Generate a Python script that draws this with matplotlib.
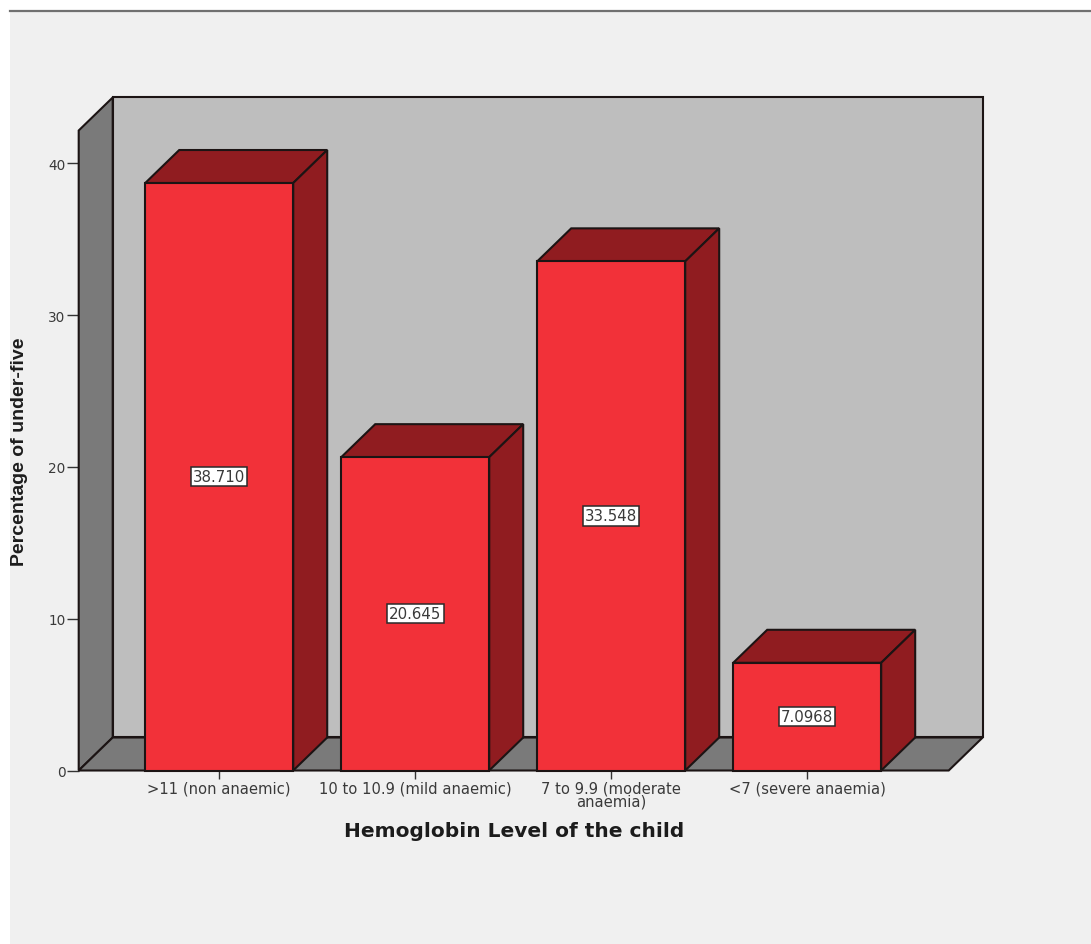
import matplotlib
matplotlib.use('Agg')
import matplotlib.pyplot as plt
from matplotlib.patches import Polygon, Rectangle
from matplotlib.lines import Line2D

categories = ['>11 (non anaemic)', '10 to 10.9 (mild anaemic)',
              '7 to 9.9 (moderate\nanaemia)', '<7 (severe anaemia)']
percent = [38.710, 20.645, 33.548, 7.0968]
value_labels = ['38.710', '20.645', '33.548', '7.0968']
yticks = [0, 10, 20, 30, 40]

RED = '#f23139'
DARK_RED = '#901c20'
WALL = '#bebebe'
SIDE = '#7a7a7a'
BG = '#f0f0f0'
EDGE = '#1c1414'
TXT = '#3a3a3a'

W, H = 1091, 945
fig = plt.figure(figsize=(W / 100, H / 100), dpi=100, facecolor='white')
plt.rcParams['font.family'] = ['DejaVu Sans']

# grey window panel with its dark upper rule
fig.add_artist(Rectangle((10 / W, 0), 1 - 10 / W, 1 - 12 / H, transform=fig.transFigure,
                         fc=BG, ec='none', zorder=-5))
fig.add_artist(Line2D([10 / W, 1], [1 - 11.5 / H, 1 - 11.5 / H], color='#707070', lw=1.6, zorder=-4))

ax = fig.add_axes([78.7 / W, (H - 771.5) / H, 870 / W, 640 / H])
ax.patch.set_visible(False)
x0, x1 = -0.717, 3.722
y_top = 42.17
ax.set_xlim(x0, x1)
ax.set_ylim(0, y_top)

# depth of the fake 3D box, in data units
dx = 34 / 196
dy = 33 / 15.175
bar_w = 148 / 196


def face(pts, color, z):
    ax.add_patch(Polygon(pts, closed=True, fc=color, ec=EDGE, lw=1.5,
                         joinstyle='miter', clip_on=False, zorder=z))


face([(x0 + dx, dy), (x1 + dx, dy), (x1 + dx, y_top + dy), (x0 + dx, y_top + dy)], WALL, 1)
face([(x0, 0), (x0 + dx, dy), (x0 + dx, y_top + dy), (x0, y_top)], SIDE, 2)
face([(x0, 0), (x1, 0), (x1 + dx, dy), (x0 + dx, dy)], SIDE, 2)

for i, v in enumerate(percent):
    l, r = i - bar_w / 2, i + bar_w / 2
    face([(l, v), (r, v), (r + dx, v + dy), (l + dx, v + dy)], DARK_RED, 3)
    face([(r, 0), (r + dx, dy), (r + dx, v + dy), (r, v)], DARK_RED, 3)
    ax.bar(i, v, width=bar_w, color=RED, edgecolor=EDGE, linewidth=1.5, zorder=4, clip_on=False)
    ax.text(i, v / 2, value_labels[i], ha='center', va='center', fontsize=10.8, color=TXT, zorder=5,
            bbox=dict(boxstyle='square,pad=0.14', fc='white', ec='#2a2a2a', lw=1.1))

for s in ax.spines.values():
    s.set_visible(False)

ax.set_yticks(yticks)
ax.set_xticks(range(len(categories)))
ax.set_xticklabels(categories, linespacing=0.8)
ax.tick_params(axis='y', length=8.5, width=1, color='#333333', labelsize=9.8, labelcolor=TXT, pad=1)
ax.tick_params(axis='x', length=5.5, width=1, color='#333333', labelsize=10.6, labelcolor=TXT, pad=2)

ax.set_xlabel('Hemoglobin Level of the child', fontsize=14.5, fontweight='bold', color='#1c1c1c', va='center')
ax.xaxis.set_label_coords(0.5, -(832 - 771.5) / 640)
ax.set_ylabel('Percentage of under-five', fontsize=14, fontweight='bold', color='#1c1c1c',
              family=['Liberation Sans Narrow', 'Liberation Sans'], va='center')
ax.yaxis.set_label_coords((20 - 78.7) / 870, 0.5)

fig.savefig('out.png', dpi=100, facecolor=fig.get_facecolor())
